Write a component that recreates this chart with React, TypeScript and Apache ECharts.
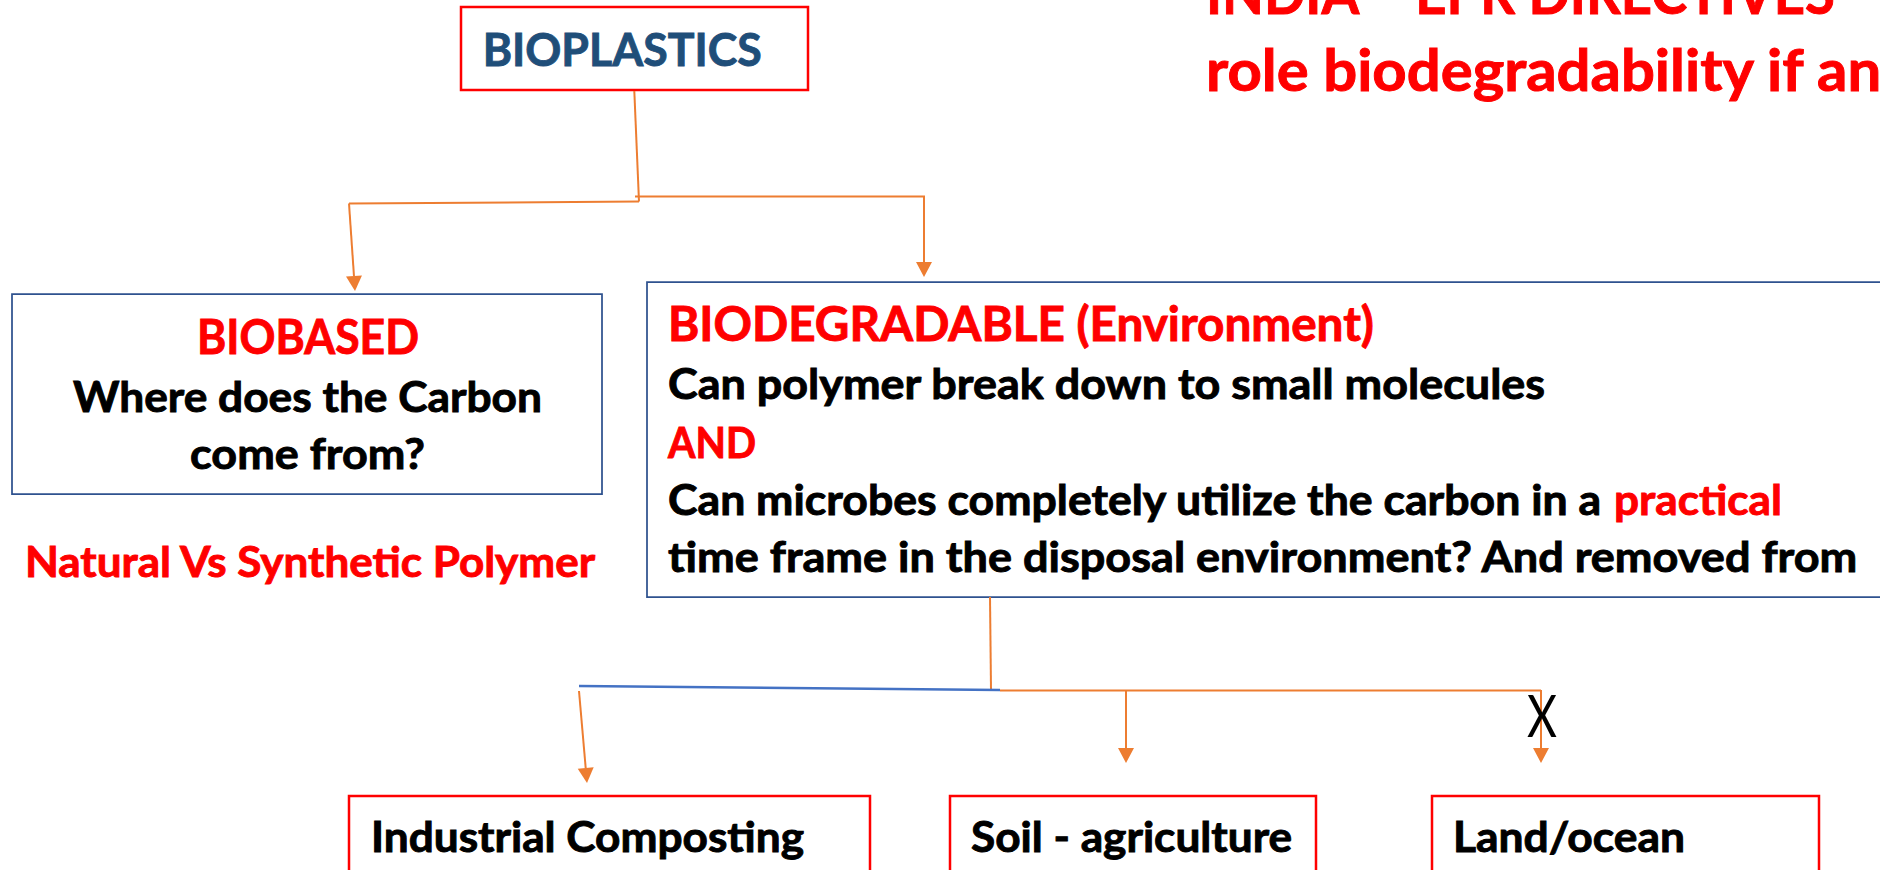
import React, { useEffect, useRef } from "react";
import * as echarts from "echarts";

// ---------- content ----------
const TITLE_LINES = ["INDIA – EPR DIRECTIVES –", "role biodegradability if an"];
const TITLE_FIT = ["INDIA – EPR DIRECTIVES", "role biodegradability if"];
const ROOT_LABEL = "BIOPLASTICS";
const BIOBASED_LINES = ["BIOBASED", "Where does the Carbon", "come from?"];
const BIOBASED_NOTE = "Natural Vs Synthetic Polymer";
const BIODEG_LINES = [
  "BIODEGRADABLE (Environment)",
  "Can polymer break down to small molecules",
  "AND",
  "Can microbes completely utilize the carbon in a",
  "time frame in the disposal environment? And removed from",
];
const PRACTICAL = "practical";
const DISPOSAL_ENVS = ["Industrial Composting", "Soil - agriculture", "Land/ocean"];
const BLOCKED_MARK = "X";

// ---------- style ----------
const FONT = "Lato, 'Open Sans', sans-serif";
const RED = "#FF0000";
const NAVY_TEXT = "#1F4E79";
const BOX_BLUE = "#2F528F";
const ORANGE = "#ED7D31";
const BLUE = "#4472C4";
const CENTRAL = 0.387;

let ctx: CanvasRenderingContext2D | null = null;
function measure(text: string, size: number, weight: string) {
  if (!ctx) ctx = document.createElement("canvas").getContext("2d");
  ctx!.font = `${weight} ${size}px Lato`;
  return ctx!.measureText(text).width;
}

type TSpec = {
  text: string;
  x: number;
  base: number;
  size: number;
  weight?: string;
  color: string;
  align?: "left" | "center";
  fitText?: string;
  fitWidth?: number;
};

function textEl(t: TSpec) {
  const weight = t.weight || "bold";
  let sx = 1;
  if (t.fitWidth) sx = t.fitWidth / measure(t.fitText || t.text, t.size, weight);
  const align = t.align || "left";
  const heavy = weight === "bold";
  return {
    type: "text",
    x: t.x,
    y: t.base - CENTRAL * t.size,
    scaleX: sx,
    silent: true,
    style: {
      text: t.text,
      x: 0,
      y: 0,
      fill: t.color,
      stroke: heavy ? t.color : null,
      lineWidth: heavy ? 0.9 : 0,
      fontSize: t.size,
      fontWeight: weight,
      fontFamily: FONT,
      align,
      textAlign: align,
      verticalAlign: "middle",
      textVerticalAlign: "middle",
    },
  };
}

function line(x1: number, y1: number, x2: number, y2: number, color = ORANGE, w = 2) {
  return { type: "line", silent: true, shape: { x1, y1, x2, y2 }, style: { stroke: color, lineWidth: w } };
}
function poly(points: number[][], color = ORANGE, w = 2) {
  return { type: "polyline", silent: true, shape: { points }, style: { stroke: color, lineWidth: w, fill: null } };
}
function arrow(x1: number, y1: number, x2: number, y2: number) {
  const dx = x2 - x1, dy = y2 - y1;
  const len = Math.hypot(dx, dy);
  const ux = dx / len, uy = dy / len;
  const hl = 15, hw = 8;
  const bx = x2 - ux * hl, by = y2 - uy * hl;
  return [
    line(x1, y1, bx, by, ORANGE, 2),
    {
      type: "polygon",
      silent: true,
      shape: { points: [[x2, y2], [bx - uy * hw, by + ux * hw], [bx + uy * hw, by - ux * hw]] },
      style: { fill: ORANGE, stroke: null },
    },
  ];
}
function box(x: number, y: number, w: number, h: number, color: string, lw = 2) {
  return { type: "rect", silent: true, shape: { x, y, width: w, height: h }, style: { fill: "none", stroke: color, lineWidth: lw } };
}

export default function App() {
  const ref = useRef<HTMLDivElement>(null);
  useEffect(() => {
    document.body.style.margin = "0";
    const chart = echarts.init(ref.current!, null, { renderer: "svg" });

    const texts: TSpec[] = [
      { text: TITLE_LINES[0], x: 1206, base: 14, size: 57, color: RED, fitText: TITLE_FIT[0], fitWidth: 631 },
      { text: TITLE_LINES[1], x: 1206, base: 91, size: 57, color: RED, fitText: TITLE_FIT[1], fitWidth: 599 },
      { text: ROOT_LABEL, x: 482.7, base: 65.7, size: 46.5, color: NAVY_TEXT, fitWidth: 279 },
      { text: BIOBASED_LINES[0], x: 308, base: 354, size: 47.5, color: RED, align: "center", fitWidth: 222 },
      { text: BIOBASED_LINES[1], x: 307.5, base: 412, size: 42, color: "#000", align: "center", fitWidth: 469 },
      { text: BIOBASED_LINES[2], x: 307.5, base: 469, size: 42, color: "#000", align: "center", fitWidth: 235 },
      { text: BIOBASED_NOTE, x: 25, base: 577, size: 42, color: RED, fitWidth: 572 },
      { text: BIODEG_LINES[0], x: 668, base: 341, size: 47.5, color: RED, fitWidth: 706 },
      { text: BIODEG_LINES[1], x: 668, base: 399, size: 42, color: "#000", fitWidth: 878 },
      { text: BIODEG_LINES[2], x: 668, base: 458, size: 42, color: RED, fitWidth: 88 },
      { text: BIODEG_LINES[3], x: 668, base: 515, size: 42, color: "#000", fitWidth: 934 },
      { text: PRACTICAL, x: 1614, base: 515, size: 42, color: RED, fitWidth: 168 },
      { text: BIODEG_LINES[4], x: 668, base: 572, size: 42, color: "#000", fitWidth: 1191 },
      { text: DISPOSAL_ENVS[0], x: 371, base: 852, size: 42, color: "#000", fitWidth: 433 },
      { text: DISPOSAL_ENVS[1], x: 971, base: 852, size: 42, color: "#000", fitWidth: 321 },
      { text: DISPOSAL_ENVS[2], x: 1453, base: 852, size: 42, color: "#000", fitWidth: 232 },
      { text: BLOCKED_MARK, x: 1542, base: 737, size: 58.5, weight: "normal", color: "#000", align: "center", fitWidth: 30 },
    ];

    const elements: any[] = [
      // boxes
      box(461, 7, 347, 83, RED, 2.5),
      box(12, 294, 590, 200, BOX_BLUE, 1.75),
      box(647, 282, 1300, 315, BOX_BLUE, 1.75),
      box(349, 796, 521, 120, RED, 2.5),
      box(950, 796, 366, 120, RED, 2.5),
      box(1432, 796, 387, 120, RED, 2.5),
      // top connectors
      line(634.3, 91, 639, 201.5),
      line(639, 201.5, 349, 203.5),
      ...arrow(349, 203.5, 355, 291),
      poly([[635, 196.5], [924, 196.5], [924, 262]]),
      ...arrow(924, 200, 924, 277),
      // bottom connectors
      line(990, 597, 991, 690),
      line(579, 686, 1000, 690, BLUE, 2.5),
      line(1000, 690.5, 1541, 690.5),
      ...arrow(579, 691, 587, 783),
      ...arrow(1126, 690, 1126, 763),
      ...arrow(1541, 690, 1541, 763),
      ...texts.map(textEl),
    ];

    chart.setOption({
      animation: false,
      backgroundColor: "#ffffff",
      graphic: { elements },
    });
    return () => chart.dispose();
  }, []);
  return <div ref={ref} style={{ width: 1880, height: 870 }} />;
}
